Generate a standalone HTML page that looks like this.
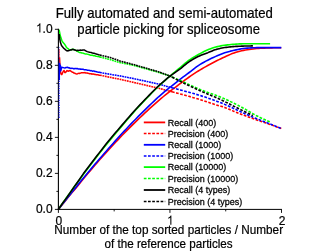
<!DOCTYPE html>
<html><head><meta charset="utf-8"><title>chart</title>
<style>
html,body{margin:0;padding:0;background:#fff;}
body{width:327px;height:251px;overflow:hidden;position:relative;}
svg text{font-family:"Liberation Sans",sans-serif;fill:#000;}
</style></head><body>
<svg width="327" height="251" viewBox="0 0 327 251" style="position:absolute;left:0;top:0;will-change:transform">
<rect width="327" height="251" fill="#fff"/>
<path d="M58.40 209.40 L60.68 206.60 L62.96 203.79 L65.23 201.04 L67.51 198.06 L69.79 195.21 L72.07 192.57 L74.34 189.91 L76.62 187.24 L78.90 184.42 L81.18 181.56 L83.45 178.65 L85.73 175.95 L88.01 173.30 L90.29 170.62 L92.56 167.96 L94.84 165.31 L97.12 162.67 L99.40 160.05 L101.67 157.48 L103.95 154.94 L106.23 152.42 L108.51 149.92 L110.78 147.44 L113.06 144.97 L115.34 142.52 L117.62 140.08 L119.89 137.67 L122.17 135.31 L124.45 132.97 L126.73 130.65 L129.00 128.35 L131.28 126.08 L133.56 123.82 L135.84 121.59 L138.11 119.39 L140.39 117.21 L142.67 115.05 L144.95 112.91 L147.22 110.80 L149.50 108.71 L151.78 106.63 L154.06 104.58 L156.33 102.55 L158.61 100.55 L160.89 98.63 L163.17 96.75 L165.44 94.89 L167.72 93.06 L170.00 91.25 L171.89 89.88 L173.77 88.46 L175.66 87.04 L177.55 85.63 L179.43 84.22 L181.32 82.81 L183.21 81.39 L185.09 79.98 L186.98 78.59 L188.86 77.23 L190.75 75.93 L192.64 74.65 L194.52 73.40 L196.41 72.18 L198.30 71.00 L200.18 69.86 L202.07 68.76 L203.96 67.68 L205.84 66.62 L207.73 65.57 L209.62 64.54 L211.50 63.51 L213.39 62.51 L215.27 61.53 L217.16 60.57 L219.05 59.63 L220.93 58.71 L222.82 57.81 L224.71 56.94 L226.59 56.09 L228.48 55.23 L230.37 54.38 L232.25 53.58 L234.14 52.88 L236.03 52.29 L237.91 51.74 L239.80 51.24 L241.68 50.78 L243.57 50.37 L245.46 50.02 L247.34 49.72 L249.23 49.44 L251.12 49.18 L253.00 48.94 L254.89 48.72 L256.78 48.53 L258.66 48.37 L260.55 48.25 L262.44 48.16 L264.32 48.08 L266.21 48.01 L268.09 47.95 L269.98 47.89 L271.87 47.83 L273.75 47.79 L275.64 47.75 L277.53 47.72 L279.41 47.71 L281.30 47.70" fill="none" stroke="#ff0000" stroke-width="1.6" stroke-linejoin="round"/>
<path d="M59.50 57.40 L60.10 67.20 L60.90 74.00 L61.80 74.60 L63.30 71.29 L64.05 70.42 L64.80 72.53 L65.55 72.50 L66.30 71.38 L67.05 70.54 L67.80 71.05 L68.55 71.18 L69.30 70.74 L70.05 70.55 L70.80 71.16 L71.55 71.52 L72.30 72.33 L73.05 72.25 L73.80 73.10 L74.55 73.05 L75.30 73.53 L76.05 73.76 L76.80 73.90 L77.55 73.77 L78.30 73.36 L79.05 73.18 L79.80 73.43 L80.55 73.09 L81.30 72.82 L82.05 72.63 L82.80 72.85 L83.55 72.69 L84.30 72.69 L85.05 72.52 L85.80 73.09 L86.55 73.11 L87.30 73.02 L88.05 73.37 L88.80 73.41 L89.55 73.71 L90.30 73.64 L91.05 73.69 L91.80 74.21 L92.55 73.96 L93.30 73.95 L94.05 74.18 L94.80 74.53 L95.55 74.39 L96.30 74.84 L97.05 74.78 L97.80 74.67 L98.55 75.08 L99.30 75.20 L100.00 75.20" fill="none" stroke="#ff0000" stroke-width="1.5" stroke-linejoin="round"/>
<path d="M100.00 75.20 L110.00 77.30 L120.00 79.30 L134.50 82.60 L158.90 88.30 L170.00 91.30 L171.89 91.78 L172.00 91.81" fill="none" stroke="#ff0000" stroke-width="1.6" stroke-dasharray="1.8 0.7" stroke-linejoin="round"/>
<path d="M172.00 91.81 L173.77 92.26 L175.66 92.75 L177.55 93.25 L179.43 93.75 L181.32 94.26 L183.21 94.77 L185.09 95.29 L186.98 95.81 L188.86 96.34 L190.75 96.87 L192.64 97.41 L194.52 97.95 L196.41 98.50 L198.30 99.07 L200.18 99.63 L202.07 100.21 L203.96 100.82 L205.84 101.44 L207.73 102.07 L209.62 102.71 L211.50 103.35 L213.39 103.98 L215.27 104.59 L217.16 105.16 L219.05 105.72 L220.93 106.28 L222.82 106.86 L224.71 107.50 L226.59 108.21 L228.48 109.00 L230.37 109.82 L232.25 110.62 L234.14 111.39 L236.03 112.16 L237.91 112.92 L239.80 113.67 L241.68 114.42 L243.57 115.15 L245.46 115.86 L247.34 116.56 L249.23 117.25 L251.12 117.93 L253.00 118.60 L254.89 119.27 L256.78 119.93 L258.66 120.58 L260.55 121.21 L262.44 121.84 L264.32 122.46 L266.21 123.09 L268.09 123.74 L269.98 124.39 L271.87 125.07 L273.75 125.75 L275.64 126.45 L277.53 127.16 L279.41 127.87 L281.30 128.60" fill="none" stroke="#ff0000" stroke-width="1.6" stroke-dasharray="2.7 1.5" stroke-linejoin="round"/>
<path d="M58.40 209.40 L60.68 206.52 L62.96 203.61 L65.23 200.71 L67.51 197.79 L69.79 194.97 L72.07 192.12 L74.34 189.27 L76.62 186.42 L78.90 183.57 L81.18 180.74 L83.45 177.93 L85.73 175.18 L88.01 172.44 L90.29 169.72 L92.56 167.02 L94.84 164.34 L97.12 161.68 L99.40 159.04 L101.67 156.41 L103.95 153.79 L106.23 151.18 L108.51 148.59 L110.78 146.02 L113.06 143.44 L115.34 140.88 L117.62 138.33 L119.89 135.80 L122.17 133.33 L124.45 130.88 L126.73 128.45 L129.00 126.04 L131.28 123.65 L133.56 121.28 L135.84 118.94 L138.11 116.63 L140.39 114.35 L142.67 112.08 L144.95 109.83 L147.22 107.61 L149.50 105.40 L151.78 103.22 L154.06 101.05 L156.33 98.90 L158.61 96.78 L160.89 94.80 L163.17 92.87 L165.44 90.97 L167.72 89.09 L170.00 87.25 L171.89 85.78 L173.77 84.27 L175.66 82.78 L177.55 81.30 L179.43 79.84 L181.32 78.39 L183.21 76.97 L185.09 75.57 L186.98 74.16 L188.86 72.75 L190.75 71.31 L192.64 69.82 L194.52 68.33 L196.41 66.91 L198.30 65.60 L200.18 64.40 L202.07 63.27 L203.96 62.20 L205.84 61.17 L207.73 60.18 L209.62 59.23 L211.50 58.33 L213.39 57.45 L215.27 56.61 L217.16 55.80 L219.05 55.00 L220.93 54.21 L222.82 53.47 L224.71 52.79 L226.59 52.19 L228.48 51.65 L230.37 51.15 L232.25 50.70 L234.14 50.28 L236.03 49.89 L237.91 49.49 L239.80 49.11 L241.68 48.76 L243.57 48.47 L245.46 48.26 L247.34 48.13 L249.23 48.01 L251.12 47.90 L253.00 47.81 L254.89 47.73 L256.78 47.67 L258.66 47.63 L260.55 47.60 L262.44 47.60 L264.32 47.60 L266.21 47.60 L268.09 47.60 L269.98 47.60 L271.87 47.60 L273.75 47.60 L275.64 47.60 L277.53 47.60 L279.41 47.60 L281.30 47.60" fill="none" stroke="#0000ff" stroke-width="1.6" stroke-linejoin="round"/>
<path d="M59.45 63.00 L59.60 64.80 L60.00 71.80 L60.40 65.50 L60.90 70.30 L61.70 67.20 L64.20 67.86 L64.95 68.09 L65.70 67.47 L66.45 67.42 L67.20 67.28 L67.95 67.55 L68.70 67.88 L69.45 67.83 L70.20 68.30 L70.95 68.41 L71.70 68.23 L72.45 68.36 L73.20 68.66 L73.95 68.49 L74.70 68.74 L75.45 68.45 L76.20 68.48 L76.95 68.73 L77.70 68.59 L78.45 69.05 L79.20 68.87 L79.95 69.15 L80.70 69.01 L81.45 69.22 L82.20 69.26 L82.95 69.12 L83.70 69.45 L84.45 69.66 L85.20 69.75 L85.95 69.83 L86.70 69.92 L87.45 70.20 L88.20 70.13 L88.95 70.35 L89.70 70.48 L90.45 70.67 L91.20 70.61 L91.95 70.85 L92.70 71.21 L93.45 71.09 L94.20 71.11 L94.95 71.49 L95.70 71.45 L96.45 71.87 L97.20 71.91 L97.95 72.13 L98.70 72.27 L99.45 72.25 L100.00 72.50" fill="none" stroke="#0000ff" stroke-width="1.5" stroke-linejoin="round"/>
<path d="M100.00 72.50 L110.00 74.30 L120.00 75.90 L134.50 78.80 L158.90 84.10 L170.00 87.30 L171.89 87.76 L172.00 87.79" fill="none" stroke="#0000ff" stroke-width="1.6" stroke-dasharray="1.8 0.7" stroke-linejoin="round"/>
<path d="M172.00 87.79 L173.77 88.23 L175.66 88.70 L177.55 89.18 L179.43 89.67 L181.32 90.17 L183.21 90.67 L185.09 91.19 L186.98 91.70 L188.86 92.22 L190.75 92.75 L192.64 93.28 L194.52 93.83 L196.41 94.38 L198.30 94.95 L200.18 95.53 L202.07 96.12 L203.96 96.73 L205.84 97.35 L207.73 98.00 L209.62 98.66 L211.50 99.33 L213.39 100.01 L215.27 100.70 L217.16 101.40 L219.05 102.11 L220.93 102.84 L222.82 103.60 L224.71 104.38 L226.59 105.20 L228.48 106.06 L230.37 106.94 L232.25 107.82 L234.14 108.70 L236.03 109.58 L237.91 110.47 L239.80 111.35 L241.68 112.23 L243.57 113.08 L245.46 113.92 L247.34 114.75 L249.23 115.57 L251.12 116.37 L253.00 117.17 L254.89 117.96 L256.78 118.73 L258.66 119.49 L260.55 120.23 L262.44 120.96 L264.32 121.69 L266.21 122.42 L268.09 123.15 L269.98 123.89 L271.87 124.65 L273.75 125.41 L275.64 126.17 L277.53 126.95 L279.41 127.72 L281.30 128.50" fill="none" stroke="#0000ff" stroke-width="1.6" stroke-dasharray="2.7 1.5" stroke-linejoin="round"/>
<path d="M58.40 209.40 L60.68 205.88 L62.96 202.58 L65.23 199.35 L67.51 196.25 L69.79 193.11 L72.07 189.80 L74.34 186.58 L76.62 183.49 L78.90 180.50 L81.18 177.42 L83.45 174.35 L85.73 171.30 L88.01 168.27 L90.29 165.25 L92.56 162.23 L94.84 159.25 L97.12 156.28 L99.40 153.34 L101.67 150.45 L103.95 147.59 L106.23 144.75 L108.51 141.94 L110.78 139.16 L113.06 136.45 L115.34 133.75 L117.62 131.09 L119.89 128.46 L122.17 125.73 L124.45 123.02 L126.73 120.33 L129.00 117.66 L131.28 115.01 L133.56 112.38 L135.84 109.83 L138.11 107.36 L140.39 104.91 L142.67 102.49 L144.95 100.09 L147.22 97.72 L149.50 95.37 L151.78 93.05 L154.06 90.76 L156.33 88.49 L158.61 86.25 L160.89 84.14 L163.17 82.07 L165.44 80.03 L167.72 78.02 L170.00 76.04 L171.70 74.66 L173.39 73.23 L175.09 71.81 L176.79 70.38 L178.48 68.97 L180.18 67.55 L181.88 66.10 L183.57 64.63 L185.27 63.18 L186.97 61.78 L188.66 60.48 L190.36 59.31 L192.06 58.22 L193.75 57.18 L195.45 56.20 L197.15 55.24 L198.84 54.30 L200.54 53.36 L202.24 52.43 L203.93 51.55 L205.63 50.72 L207.33 49.97 L209.02 49.29 L210.72 48.65 L212.42 48.05 L214.11 47.50 L215.81 47.02 L217.51 46.61 L219.20 46.23 L220.90 45.89 L222.59 45.58 L224.29 45.31 L225.99 45.09 L227.68 44.89 L229.38 44.71 L231.08 44.54 L232.77 44.38 L234.47 44.24 L236.17 44.12 L237.86 44.01 L239.56 43.92 L241.26 43.84 L242.95 43.77 L244.65 43.72 L246.35 43.70 L248.04 43.70 L249.74 43.70 L251.44 43.70 L253.13 43.70 L254.83 43.70 L256.53 43.70 L258.22 43.70 L259.92 43.70 L261.62 43.70 L263.31 43.70 L265.01 43.70 L266.71 43.70 L268.40 43.70 L270.10 43.70" fill="none" stroke="#00ff00" stroke-width="1.6" stroke-linejoin="round"/>
<path d="M59.10 29.70 L60.30 35.80 L62.10 41.30 L64.60 44.27 L65.35 45.35 L66.10 46.71 L66.85 47.76 L67.60 48.29 L68.35 48.86 L69.10 49.74 L69.85 49.94 L70.60 49.85 L71.35 49.56 L72.10 49.56 L72.85 49.26 L73.60 49.35 L74.35 49.77 L75.10 49.94 L75.85 50.32 L76.60 50.93 L77.35 51.20 L78.10 51.73 L78.85 52.12 L79.60 52.46 L80.35 52.53 L81.10 52.78 L81.85 53.04 L82.60 53.12 L83.35 53.24 L84.10 53.55 L84.85 53.76 L85.60 53.90 L86.35 53.93 L87.10 54.11 L87.85 54.37 L88.60 54.49 L89.35 54.67 L90.10 54.94 L90.85 55.16 L91.60 55.15 L92.35 55.32 L93.10 55.53 L93.85 55.73 L94.60 55.84 L95.35 55.99 L96.10 56.21 L96.85 56.37 L97.60 56.49 L98.35 56.54 L99.10 56.78 L99.85 57.03 L100.00 57.00" fill="none" stroke="#00ff00" stroke-width="1.5" stroke-linejoin="round"/>
<path d="M100.00 57.00 L110.00 59.60 L120.00 62.60 L134.50 65.60 L158.90 72.40 L170.00 76.10 L171.70 76.83 L172.00 76.96" fill="none" stroke="#00ff00" stroke-width="1.6" stroke-dasharray="1.8 0.7" stroke-linejoin="round"/>
<path d="M172.00 76.96 L173.39 77.56 L175.09 78.30 L176.79 79.04 L178.48 79.78 L180.18 80.52 L181.88 81.27 L183.57 82.02 L185.27 82.78 L186.97 83.56 L188.66 84.35 L190.36 85.14 L192.06 85.93 L193.75 86.72 L195.45 87.50 L197.15 88.26 L198.84 89.00 L200.54 89.72 L202.24 90.41 L203.93 91.07 L205.63 91.70 L207.33 92.31 L209.02 92.91 L210.72 93.50 L212.42 94.09 L214.11 94.68 L215.81 95.29 L217.51 95.92 L219.20 96.58 L220.90 97.27 L222.59 97.99 L224.29 98.72 L225.99 99.48 L227.68 100.26 L229.38 101.05 L231.08 101.86 L232.77 102.68 L234.47 103.52 L236.17 104.37 L237.86 105.25 L239.56 106.14 L241.26 107.04 L242.95 107.96 L244.65 108.88 L246.35 109.84 L248.04 110.83 L249.74 111.84 L251.44 112.85 L253.13 113.84 L254.83 114.80 L256.53 115.71 L258.22 116.57 L259.92 117.42 L261.62 118.24 L263.31 119.04 L265.01 119.82 L266.71 120.57 L268.40 121.30 L270.10 122.00" fill="none" stroke="#00ff00" stroke-width="1.6" stroke-dasharray="2.7 1.5" stroke-linejoin="round"/>
<path d="M58.40 209.40 L60.68 206.00 L62.96 202.79 L65.23 199.62 L67.51 196.47 L69.79 193.14 L72.07 189.84 L74.34 186.59 L76.62 183.44 L78.90 180.17 L81.18 176.88 L83.45 173.59 L85.73 170.56 L88.01 167.56 L90.29 164.52 L92.56 161.50 L94.84 158.50 L97.12 155.54 L99.40 152.63 L101.67 149.69 L103.95 146.76 L106.23 143.86 L108.51 140.97 L110.78 138.15 L113.06 135.46 L115.34 132.80 L117.62 130.17 L119.89 127.57 L122.17 124.89 L124.45 122.22 L126.73 119.58 L129.00 116.97 L131.28 114.37 L133.56 111.81 L135.84 109.29 L138.11 106.82 L140.39 104.38 L142.67 101.96 L144.95 99.57 L147.22 97.21 L149.50 94.87 L151.78 92.56 L154.06 90.28 L156.33 88.03 L158.61 85.80 L160.89 83.76 L163.17 81.78 L165.44 79.83 L167.72 77.92 L170.00 76.04 L171.41 75.15 L172.81 74.19 L174.22 73.21 L175.62 72.21 L177.03 71.20 L178.43 70.17 L179.84 69.12 L181.24 68.04 L182.65 66.89 L184.05 65.71 L185.46 64.54 L186.86 63.41 L188.27 62.35 L189.67 61.39 L191.08 60.49 L192.48 59.63 L193.89 58.80 L195.29 58.02 L196.70 57.29 L198.10 56.59 L199.51 55.95 L200.91 55.35 L202.32 54.78 L203.72 54.24 L205.13 53.71 L206.53 53.17 L207.94 52.63 L209.34 52.05 L210.75 51.47 L212.15 50.89 L213.56 50.33 L214.96 49.83 L216.37 49.39 L217.77 49.02 L219.18 48.67 L220.58 48.34 L221.99 48.04 L223.39 47.78 L224.80 47.55 L226.20 47.36 L227.61 47.20 L229.01 47.04 L230.42 46.89 L231.82 46.76 L233.23 46.64 L234.63 46.52 L236.04 46.42 L237.44 46.33 L238.85 46.25 L240.25 46.19 L241.66 46.13 L243.06 46.08 L244.47 46.04 L245.87 46.01 L247.28 45.98 L248.68 45.95 L250.09 45.93 L251.49 45.91 L252.90 45.90" fill="none" stroke="#000000" stroke-width="1.6" stroke-linejoin="round"/>
<path d="M59.20 34.00 L59.60 38.00 L60.30 41.90 L61.50 45.60 L63.30 47.73 L64.05 48.63 L64.80 49.08 L65.55 49.88 L66.30 50.36 L67.05 50.95 L67.80 50.81 L68.55 50.85 L69.30 50.39 L70.05 50.12 L70.80 49.85 L71.55 49.91 L72.30 49.53 L73.05 49.35 L73.80 49.80 L74.55 49.86 L75.30 50.25 L76.05 50.33 L76.80 50.64 L77.55 50.30 L78.30 50.40 L79.05 50.19 L79.80 50.18 L80.55 50.10 L81.30 50.22 L82.05 50.19 L82.80 49.98 L83.55 50.04 L84.30 49.96 L85.05 50.49 L85.80 50.91 L86.55 51.25 L87.30 51.58 L88.05 51.89 L88.80 52.08 L89.55 52.17 L90.30 52.38 L91.05 52.54 L91.80 52.81 L92.55 52.94 L93.30 53.21 L94.05 53.35 L94.80 53.51 L95.55 53.87 L96.30 54.02 L97.05 54.21 L97.80 54.39 L98.55 54.73 L99.30 54.88 L100.00 55.10" fill="none" stroke="#000000" stroke-width="1.5" stroke-linejoin="round"/>
<path d="M100.00 55.10 L110.00 57.40 L120.00 61.00 L134.50 64.80 L158.90 71.90 L170.00 76.10 L171.41 76.84 L172.00 77.15" fill="none" stroke="#000000" stroke-width="1.6" stroke-dasharray="1.8 0.7" stroke-linejoin="round"/>
<path d="M172.00 77.15 L172.81 77.58 L174.22 78.31 L175.62 79.04 L177.03 79.76 L178.43 80.47 L179.84 81.18 L181.24 81.88 L182.65 82.58 L184.05 83.27 L185.46 83.95 L186.86 84.63 L188.27 85.30 L189.67 85.97 L191.08 86.63 L192.48 87.29 L193.89 87.95 L195.29 88.60 L196.70 89.24 L198.10 89.88 L199.51 90.52 L200.91 91.15 L202.32 91.77 L203.72 92.39 L205.13 92.99 L206.53 93.58 L207.94 94.16 L209.34 94.74 L210.75 95.32 L212.15 95.90 L213.56 96.48 L214.96 97.08 L216.37 97.68 L217.77 98.29 L219.18 98.92 L220.58 99.57 L221.99 100.24 L223.39 100.93 L224.80 101.64 L226.20 102.35 L227.61 103.07 L229.01 103.79 L230.42 104.50 L231.82 105.21 L233.23 105.91 L234.63 106.61 L236.04 107.31 L237.44 108.01 L238.85 108.71 L240.25 109.40 L241.66 110.10 L243.06 110.79 L244.47 111.48 L245.87 112.18 L247.28 112.86 L248.68 113.55 L250.09 114.23 L251.49 114.92 L252.90 115.60" fill="none" stroke="#000000" stroke-width="1.6" stroke-dasharray="2.7 1.5" stroke-linejoin="round"/>
<path d="M58.40 28.85 V209.90" fill="none" stroke="#000" stroke-width="1.1"/>
<path d="M57.75 209.40 H281.95" fill="none" stroke="#000" stroke-width="1.0"/>
<path d="M58.40 209.40 h-3.50 M58.40 191.39 h-2.00 M58.40 173.38 h-3.50 M58.40 155.37 h-2.00 M58.40 137.36 h-3.50 M58.40 119.35 h-2.00 M58.40 101.34 h-3.50 M58.40 83.33 h-2.00 M58.40 65.32 h-3.50 M58.40 47.31 h-2.00 M58.40 29.30 h-3.50 M58.40 209.40 v3.50 M114.17 209.40 v2.00 M169.95 209.40 v3.50 M225.72 209.40 v2.00 M281.50 209.40 v3.50" fill="none" stroke="#000" stroke-width="0.9"/>
<path d="M59.15 118 V80" fill="none" stroke="#0000ff" stroke-width="1.2" stroke-dasharray="1.4 1.0" opacity="0.85"/>
<path d="M59.15 63 V47" fill="none" stroke="#0000ff" stroke-width="1.0" stroke-dasharray="1.7 0.8" opacity="0.55"/>
<path d="M59.3 80 V63" fill="none" stroke="#0000ff" stroke-width="1.5"/>
<path d="M59.45 49 V58" fill="none" stroke="#ff0000" stroke-width="0.9" opacity="0.55"/>
<path d="M143.8 122.4 H165.2" stroke="#ff0000" stroke-width="1.8"/>
<text transform="translate(167.7 125.75) scale(1 1.08)" font-size="9.0" stroke="#000" stroke-width="0.25">Recall (400)</text>
<path d="M143.8 133.5 H165.2" stroke="#ff0000" stroke-width="1.3" stroke-dasharray="2.7 1.5"/>
<text transform="translate(167.7 136.85) scale(1 1.08)" font-size="9.0" stroke="#000" stroke-width="0.25">Precision (400)</text>
<path d="M143.8 144.8 H165.2" stroke="#0000ff" stroke-width="1.8"/>
<text transform="translate(167.7 148.15) scale(1 1.08)" font-size="9.0" stroke="#000" stroke-width="0.25">Recall (1000)</text>
<path d="M143.8 156.0 H165.2" stroke="#0000ff" stroke-width="1.3" stroke-dasharray="2.7 1.5"/>
<text transform="translate(167.7 159.35) scale(1 1.08)" font-size="9.0" stroke="#000" stroke-width="0.25">Precision (1000)</text>
<path d="M143.8 167.1 H165.2" stroke="#00ff00" stroke-width="1.8"/>
<text transform="translate(167.7 170.45) scale(1 1.08)" font-size="9.0" stroke="#000" stroke-width="0.25">Recall (10000)</text>
<path d="M143.8 178.5 H165.2" stroke="#00ff00" stroke-width="1.3" stroke-dasharray="2.7 1.5"/>
<text transform="translate(167.7 181.85) scale(1 1.08)" font-size="9.0" stroke="#000" stroke-width="0.25">Precision (10000)</text>
<path d="M143.8 190.0 H165.2" stroke="#000000" stroke-width="1.8"/>
<text transform="translate(167.7 193.35) scale(1 1.08)" font-size="9.0" stroke="#000" stroke-width="0.25">Recall (4 types)</text>
<path d="M143.8 201.5 H165.2" stroke="#000000" stroke-width="1.3" stroke-dasharray="2.7 1.5"/>
<text transform="translate(167.7 204.85) scale(1 1.08)" font-size="9.0" stroke="#000" stroke-width="0.25">Precision (4 types)</text>
<text transform="translate(52.60 212.70) scale(1 1.090)" font-size="12.00" text-anchor="end" stroke="#000" stroke-width="0.2">0.0</text>
<text transform="translate(52.60 176.68) scale(1 1.090)" font-size="12.00" text-anchor="end" stroke="#000" stroke-width="0.2">0.2</text>
<text transform="translate(52.60 140.66) scale(1 1.090)" font-size="12.00" text-anchor="end" stroke="#000" stroke-width="0.2">0.4</text>
<text transform="translate(52.60 104.64) scale(1 1.090)" font-size="12.00" text-anchor="end" stroke="#000" stroke-width="0.2">0.6</text>
<text transform="translate(52.60 68.62) scale(1 1.090)" font-size="12.00" text-anchor="end" stroke="#000" stroke-width="0.2">0.8</text>
<path transform="translate(35.92 32.60) scale(0.005859 -0.006387)" d="M763 0H583V1147Q518 1085 412.500 1023Q307 961 223 930V1104Q374 1175 487 1276Q600 1377 647 1472H763Z" fill="#000"/>
<text transform="translate(42.59 32.60) scale(1 1.090)" font-size="12.00" text-anchor="start" stroke="#000" stroke-width="0.2">.0</text>
<text transform="translate(58.90 224.80) scale(1 1.090)" font-size="12.00" text-anchor="middle" stroke="#000" stroke-width="0.2">0</text>
<path transform="translate(166.91 224.80) scale(0.005859 -0.006387)" d="M763 0H583V1147Q518 1085 412.500 1023Q307 961 223 930V1104Q374 1175 487 1276Q600 1377 647 1472H763Z" fill="#000"/>
<text transform="translate(282.00 224.80) scale(1 1.090)" font-size="12.00" text-anchor="middle" stroke="#000" stroke-width="0.2">2</text>
<text transform="translate(164.30 17.80) scale(1 1.120)" font-size="13.17" text-anchor="middle" stroke="#000" stroke-width="0.2">Fully automated and semi-automated</text>
<text transform="translate(168.65 33.90) scale(1 1.120)" font-size="13.15" text-anchor="middle" stroke="#000" stroke-width="0.2">particle picking for spliceosome</text>
<text transform="translate(168.70 234.00) scale(1 1.120)" font-size="11.77" text-anchor="middle" stroke="#000" stroke-width="0.2">Number of the top sorted particles / Number</text>
<text transform="translate(168.60 247.50) scale(1 1.120)" font-size="11.65" text-anchor="middle" stroke="#000" stroke-width="0.2">of the reference particles</text>
</svg>
</body></html>
